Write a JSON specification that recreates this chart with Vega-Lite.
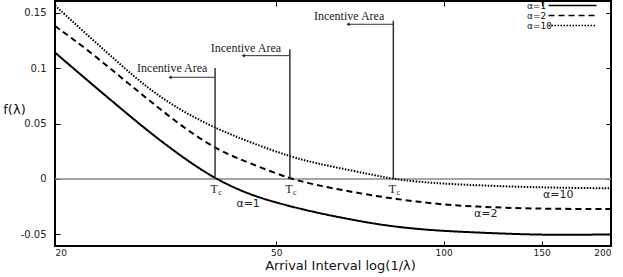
{
  "$schema": "https://vega.github.io/schema/vega-lite/v6.json",
  "width": 556,
  "height": 245,
  "autosize": "none",
  "padding": {"left": 55, "top": 1, "right": 12, "bottom": 31},
  "background": "white",
  "config": {
    "view": {"stroke": "black", "strokeWidth": 2},
    "axis": {
      "domain": false,
      "grid": false,
      "tickColor": "black",
      "tickSize": -5,
      "tickWidth": 1,
      "labelFont": "DejaVu Sans",
      "labelFontSize": 10,
      "labelColor": "#222",
      "titleFont": "DejaVu Sans",
      "titleFontSize": 13,
      "titleFontWeight": "normal",
      "titleColor": "#111"
    }
  },
  "resolve": {"axis": {"x": "independent", "y": "independent"}},
  "datasets": {
    "curves": [
      {"x": 20, "f": 0.114, "series": "α=1"},
      {"x": 22.96, "f": 0.0882, "series": "α=1"},
      {"x": 26.37, "f": 0.0628, "series": "α=1"},
      {"x": 29.85, "f": 0.0405, "series": "α=1"},
      {"x": 34.03, "f": 0.019, "series": "α=1"},
      {"x": 38.81, "f": 0, "series": "α=1"},
      {"x": 44.86, "f": -0.0145, "series": "α=1"},
      {"x": 51.5, "f": -0.0232, "series": "α=1"},
      {"x": 59.1, "f": -0.0305, "series": "α=1"},
      {"x": 67.9, "f": -0.0365, "series": "α=1"},
      {"x": 77.9, "f": -0.0418, "series": "α=1"},
      {"x": 89.4, "f": -0.0452, "series": "α=1"},
      {"x": 102.7, "f": -0.0473, "series": "α=1"},
      {"x": 129.9, "f": -0.0495, "series": "α=1"},
      {"x": 149.1, "f": -0.0503, "series": "α=1"},
      {"x": 170.9, "f": -0.0505, "series": "α=1"},
      {"x": 200, "f": -0.05, "series": "α=1"},
      {"x": 20, "f": 0.138, "series": "α=2"},
      {"x": 22.96, "f": 0.116, "series": "α=2"},
      {"x": 26.37, "f": 0.091, "series": "α=2"},
      {"x": 29.85, "f": 0.069, "series": "α=2"},
      {"x": 34.03, "f": 0.0465, "series": "α=2"},
      {"x": 39.08, "f": 0.0262, "series": "α=2"},
      {"x": 44.86, "f": 0.0141, "series": "α=2"},
      {"x": 52.9, "f": 0, "series": "α=2"},
      {"x": 59.1, "f": -0.0055, "series": "α=2"},
      {"x": 67.9, "f": -0.0115, "series": "α=2"},
      {"x": 77.9, "f": -0.0165, "series": "α=2"},
      {"x": 89.4, "f": -0.0205, "series": "α=2"},
      {"x": 102.7, "f": -0.0238, "series": "α=2"},
      {"x": 129.9, "f": -0.0262, "series": "α=2"},
      {"x": 149.1, "f": -0.0268, "series": "α=2"},
      {"x": 170.9, "f": -0.0271, "series": "α=2"},
      {"x": 200, "f": -0.0272, "series": "α=2"},
      {"x": 20, "f": 0.1565, "series": "α=10"},
      {"x": 22.96, "f": 0.129, "series": "α=10"},
      {"x": 26.37, "f": 0.102, "series": "α=10"},
      {"x": 29.85, "f": 0.079, "series": "α=10"},
      {"x": 34.03, "f": 0.0605, "series": "α=10"},
      {"x": 39.08, "f": 0.0452, "series": "α=10"},
      {"x": 44.86, "f": 0.033, "series": "α=10"},
      {"x": 52.9, "f": 0.0201, "series": "α=10"},
      {"x": 59.1, "f": 0.014, "series": "α=10"},
      {"x": 67.9, "f": 0.0078, "series": "α=10"},
      {"x": 77.9, "f": 0.0018, "series": "α=10"},
      {"x": 81.2, "f": 0, "series": "α=10"},
      {"x": 89.4, "f": -0.0025, "series": "α=10"},
      {"x": 102.7, "f": -0.0047, "series": "α=10"},
      {"x": 129.9, "f": -0.0068, "series": "α=10"},
      {"x": 149.1, "f": -0.0076, "series": "α=10"},
      {"x": 170.9, "f": -0.0081, "series": "α=10"},
      {"x": 200, "f": -0.0085, "series": "α=10"}
    ],
    "markers": [
      {"tc": 38.81, "base": 0, "top": 0.1001, "arrowY": 0.0917, "arrowEnd": 32.2, "labelX": 32.5, "labelY": 0.1001},
      {"tc": 52.9, "base": 0, "top": 0.1169, "arrowY": 0.1112, "arrowEnd": 43.6, "labelX": 44.1, "labelY": 0.1184},
      {"tc": 81.2, "base": 0, "top": 0.1427, "arrowY": 0.1395, "arrowEnd": 67.3, "labelX": 67.6, "labelY": 0.1472}
    ],
    "curveLabels": [
      {"x": 44.5, "f": -0.0226, "label": "α=1"},
      {"x": 119.1, "f": -0.0316, "label": "α=2"},
      {"x": 160.8, "f": -0.0145, "label": "α=10"}
    ]
  },
  "layer": [
    {
      "data": {"values": [{"x1": 20, "x2": 200, "f": 0}]},
      "mark": {"type": "rule", "color": "#888", "strokeWidth": 1.5},
      "encoding": {
        "x": {"field": "x1", "type": "quantitative", "scale": {"type": "log", "domain": [20, 200], "nice": false}, "axis": {"orient": "bottom", "values": [20, 50, 100, 150, 200], "labelFontSize": 9, "labelPadding": 7, "title": "Arrival Interval log(1/λ)", "titleX": 285, "titleY": 19, "titleBaseline": "middle"}},
        "x2": {"field": "x2"},
        "y": {"field": "f", "type": "quantitative", "scale": {"domain": [-0.0605, 0.1605], "nice": false, "zero": false}, "axis": {"orient": "left", "values": [-0.05, 0, 0.05, 0.1, 0.15], "labelExpr": "'' + datum.value", "labelPadding": 14, "title": "f(λ)", "titleAngle": 0, "titleX": -41, "titleY": 108, "titleAlign": "center", "titleBaseline": "middle"}}
      }
    },
    {
      "data": {"name": "curves"},
      "mark": {"type": "line", "color": "black", "strokeWidth": 2, "interpolate": "basis"},
      "encoding": {
        "x": {"field": "x", "type": "quantitative", "axis": {"orient": "top", "labels": false, "title": null, "values": [20, 50, 100, 150, 200]}},
        "y": {"field": "f", "type": "quantitative", "axis": {"orient": "right", "labels": false, "title": null, "values": [-0.05, 0, 0.05, 0.1, 0.15]}},
        "strokeDash": {
          "field": "series", "type": "nominal",
          "scale": {"domain": ["α=1", "α=2", "α=10"], "range": [[1, 0], [6, 4], [1.5, 1.5]]},
          "legend": {
            "orient": "none", "legendX": 513, "legendY": 0, "title": null,
            "symbolType": "M-8,0H8", "symbolSize": 36, "symbolStrokeWidth": 1.5,
            "symbolStrokeColor": "black", "symbolFillColor": "transparent",
            "labelFont": "DejaVu Sans", "labelFontSize": 9, "labelColor": "#111",
            "labelOffset": -50, "labelAlign": "left", "rowPadding": 0, "padding": 0
          }
        },
        "order": {"field": "x", "type": "quantitative"}
      }
    },
    {
      "data": {"name": "markers"},
      "mark": {"type": "rule", "color": "#333", "strokeWidth": 1.5},
      "encoding": {
        "x": {"field": "tc", "type": "quantitative", "axis": null},
        "y": {"field": "base", "type": "quantitative", "axis": null},
        "y2": {"field": "top"}
      }
    },
    {
      "data": {"name": "markers"},
      "mark": {"type": "rule", "color": "#333", "strokeWidth": 1},
      "encoding": {
        "x": {"field": "tc", "type": "quantitative", "axis": null},
        "x2": {"field": "arrowEnd"},
        "y": {"field": "arrowY", "type": "quantitative", "axis": null}
      }
    },
    {
      "data": {"name": "markers"},
      "mark": {"type": "point", "shape": "triangle-left", "filled": true, "color": "#222", "size": 14, "opacity": 1},
      "encoding": {
        "x": {"field": "arrowEnd", "type": "quantitative", "axis": null},
        "y": {"field": "arrowY", "type": "quantitative", "axis": null}
      }
    },
    {
      "data": {"name": "markers"},
      "mark": {"type": "text", "font": "Liberation Serif", "fontSize": 12, "color": "#222", "baseline": "middle", "align": "center", "text": "Incentive Area"},
      "encoding": {
        "x": {"field": "labelX", "type": "quantitative", "axis": null},
        "y": {"field": "labelY", "type": "quantitative", "axis": null}
      }
    },
    {
      "data": {"name": "markers"},
      "mark": {"type": "text", "font": "Liberation Serif", "fontSize": 12, "color": "#222", "baseline": "middle", "align": "center", "dx": -1, "dy": 10, "text": "T"},
      "encoding": {
        "x": {"field": "tc", "type": "quantitative", "axis": null},
        "y": {"field": "base", "type": "quantitative", "axis": null}
      }
    },
    {
      "data": {"name": "markers"},
      "mark": {"type": "text", "font": "Liberation Serif", "fontSize": 8, "color": "#222", "baseline": "middle", "align": "center", "dx": 5, "dy": 14, "text": "c"},
      "encoding": {
        "x": {"field": "tc", "type": "quantitative", "axis": null},
        "y": {"field": "base", "type": "quantitative", "axis": null}
      }
    },
    {
      "data": {"name": "curveLabels"},
      "mark": {"type": "text", "font": "DejaVu Sans", "fontSize": 11, "color": "#222", "baseline": "middle", "align": "center"},
      "encoding": {
        "x": {"field": "x", "type": "quantitative", "axis": null},
        "y": {"field": "f", "type": "quantitative", "axis": null},
        "text": {"field": "label"}
      }
    }
  ]
}
